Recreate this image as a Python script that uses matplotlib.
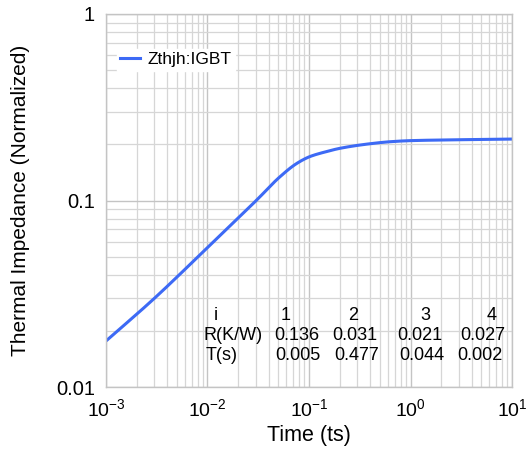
import numpy as np
import matplotlib.pyplot as plt
from matplotlib.ticker import LogLocator, FixedLocator, FixedFormatter

plt.rcParams['font.family'] = ['Liberation Sans', 'DejaVu Sans']

# curve
time_s = [0.001, 0.00292, 0.00843, 0.0306, 0.0517, 0.0757, 0.102, 0.149,
          0.202, 0.356, 0.628, 0.99, 1.95, 10.0]
zth = [0.01765, 0.0295, 0.0511, 0.1007, 0.134, 0.158, 0.172, 0.183,
       0.1905, 0.200, 0.2066, 0.2094, 0.211, 0.2135]

# foster table
idx = ['1', '2', '3', '4']
r_kw = ['0.136', '0.031', '0.021', '0.027']
tau = ['0.005', '0.477', '0.044', '0.002']


def pchip(x, y, xs):
    # monotone cubic through the read points (log space)
    x = np.asarray(x)
    y = np.asarray(y)
    h = np.diff(x)
    d = np.diff(y) / h
    m = np.zeros_like(y)
    for k in range(1, len(x) - 1):
        if d[k - 1] * d[k] > 0:
            w1 = 2 * h[k] + h[k - 1]
            w2 = h[k] + 2 * h[k - 1]
            m[k] = (w1 + w2) / (w1 / d[k - 1] + w2 / d[k])
    m[0] = d[0]
    m[-1] = d[-1]
    i = np.clip(np.searchsorted(x, xs) - 1, 0, len(x) - 2)
    t = (xs - x[i]) / h[i]
    h00 = 2 * t**3 - 3 * t**2 + 1
    h10 = t**3 - 2 * t**2 + t
    h01 = -2 * t**3 + 3 * t**2
    h11 = t**3 - t**2
    return h00 * y[i] + h10 * h[i] * m[i] + h01 * y[i + 1] + h11 * h[i] * m[i + 1]


fig = plt.figure(figsize=(5.26, 4.65), dpi=100)
ax = fig.add_axes([0.2015, 0.1677, 0.7719, 0.8022])

lx = np.log10(time_s)
ly = np.log10(zth)
xs = np.linspace(lx[0], lx[-1], 400)
ax.plot(10 ** xs, 10 ** pchip(lx, ly, xs), color='#3d6af5', lw=2.2,
        label='Zthjh:IGBT')

ax.set_xscale('log')
ax.set_yscale('log')
ax.set_xlim(1e-3, 10)
ax.set_ylim(0.01, 1)

ax.yaxis.set_major_locator(FixedLocator([0.01, 0.1, 1]))
ax.yaxis.set_major_formatter(FixedFormatter(['0.01', '0.1', '1']))
ax.yaxis.set_minor_locator(LogLocator(base=10, subs=np.arange(2, 10)))
ax.xaxis.set_minor_locator(LogLocator(base=10, subs=np.arange(2, 10)))
ax.tick_params(which='both', length=0)
ax.tick_params(axis='x', pad=8, labelsize=14)
ax.tick_params(axis='y', pad=8, labelsize=14.5)

ax.grid(which='major', color='#c4c4c4', lw=1.0)
ax.grid(which='minor', color='#d6d6d6', lw=0.9)
ax.set_axisbelow(True)
for s in ax.spines.values():
    s.set_color('#c4c4c4')
    s.set_linewidth(1.0)


def fx(px):
    return (px - 106) / 406


def fy(py):
    return (387 - py) / 373


ax.set_xlabel('Time (ts)', fontsize=15.5)
ax.set_ylabel('Thermal Impedance (Normalized)', fontsize=15)
ax.xaxis.set_label_coords(0.5, fy(425))
ax.yaxis.set_label_coords(fx(30), fy(200))

leg = ax.legend(loc='upper left', bbox_to_anchor=(0.005, 0.93), fontsize=12.5,
                frameon=True, fancybox=False, handlelength=1.15,
                borderpad=0.2, handletextpad=0.45)
leg.get_frame().set_edgecolor('white')
leg.get_frame().set_facecolor('white')
leg.get_frame().set_alpha(1)

tk = dict(transform=ax.transAxes, fontsize=13, ha='center', va='center')
ax.text(fx(216), fy(315), 'i', **tk)
ax.text(fx(233), fy(335), 'R(K/W)', **tk)
ax.text(fx(222), fy(355), 'T(s)', **tk)
for cx, lab in zip([286, 353, 425, 492], idx):
    ax.text(fx(cx), fy(315), lab, **tk)
for cx, lab in zip([297, 355, 420, 483], r_kw):
    ax.text(fx(cx), fy(335), lab, **tk)
for cx, lab in zip([298, 357, 422, 480], tau):
    ax.text(fx(cx), fy(355), lab, **tk)

fig.savefig('out.png', dpi=100)
